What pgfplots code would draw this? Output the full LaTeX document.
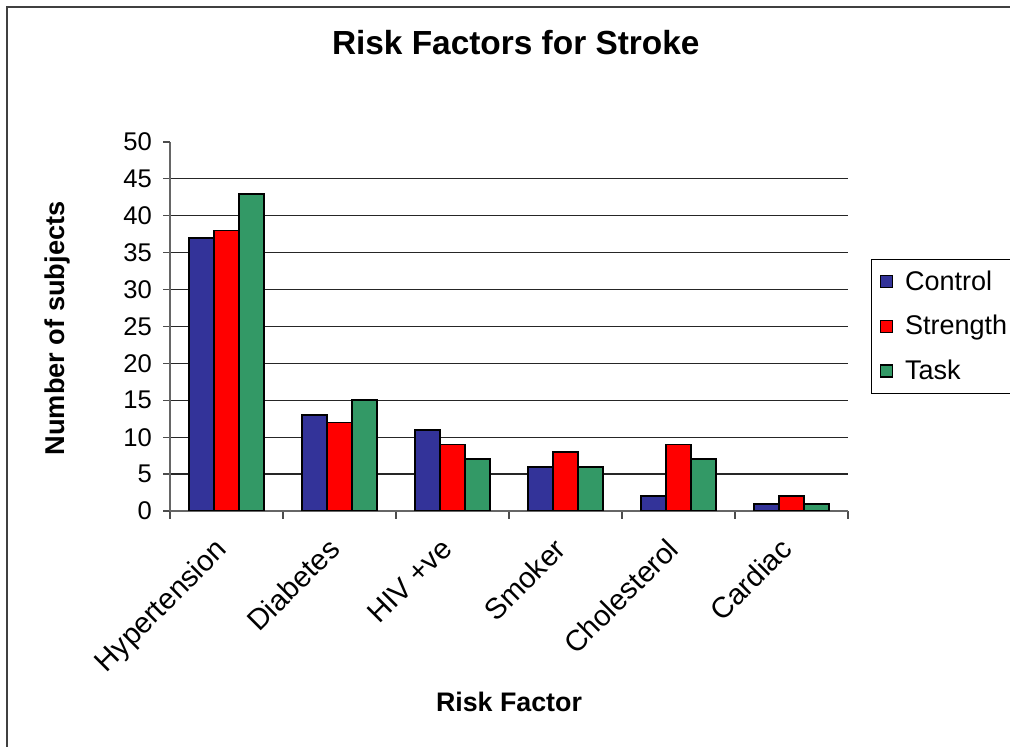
\documentclass[border=0pt]{standalone}
\usepackage{pgfplots}
\pgfplotsset{compat=1.18}
\usepackage{fontspec}
\setmainfont{Liberation Sans}
\definecolor{ctrl}{HTML}{333399}
\definecolor{strg}{HTML}{FF0000}
\definecolor{task}{HTML}{339966}
\begin{document}
\begin{tikzpicture}
\useasboundingbox (0,0) rectangle (505pt,373.5pt);
\draw[line width=1pt, black!75] (3.5pt,-5pt) -- (3.5pt,370pt) -- (515pt,370pt);
\begin{axis}[
  at={(85pt,118pt)}, anchor=south west,
  width=339pt, height=184.5pt, scale only axis,
  xmin=-0.5, xmax=5.5, ymin=0, ymax=50,
  ybar=0pt, bar width=12.55pt,
  axis x line*=bottom, axis y line*=left,
  axis line style={-, draw=black!60, line width=0.8pt},
  ytick={0,5,...,45}, extra y ticks={50}, extra y tick style={grid=none},
  ymajorgrids, grid style={black!85, line width=0.6pt},
  xtick={0,...,5},
  xticklabels={Hypertension,Diabetes,HIV +ve,Smoker,Cholesterol,Cardiac},
  major x tick style={draw=none},
  minor xtick={-0.5,0.5,...,5.5},
  tick style={draw=black!70, line width=0.6pt},
  tick align=outside, major tick length=3.5pt, minor tick length=4pt,
  /pgf/number format/assume math mode=true,
  tick label style={font=\fontsize{12.8}{15}\selectfont},
  xticklabel style={font=\fontsize{14.6}{17}\selectfont, rotate=45, anchor=north east, xshift=-7.6pt, yshift=1.6pt},
  yticklabel style={xshift=-2pt},
  title={Risk Factors for Stroke},
  title style={font=\bfseries\fontsize{16.7}{20}\selectfont, at={(axis description cs:0.51,1.236)}, anchor=center},
  xlabel={Risk Factor},
  xlabel style={font=\bfseries\fontsize{13.4}{16}\selectfont, at={(axis description cs:0.5,-0.518)}, anchor=center},
  ylabel={Number of subjects},
  ylabel style={font=\bfseries\fontsize{13.6}{16}\selectfont, at={(axis description cs:-0.166,0.495)}, anchor=center},
  legend style={at={(axis description cs:1.034,0.683)}, anchor=north west,
    draw=black, line width=0.6pt, font=\fontsize{13.5}{16}\selectfont,
    legend cell align=left, row sep=7pt, inner xsep=4pt, inner ysep=3.5pt},
  legend image code/.code={\draw[#1, line width=0.6pt] (0pt,-3pt) rectangle (6pt,3pt); \path (10pt,0pt);},
]
\addplot[fill=ctrl, draw=black, line width=0.9pt] coordinates {(0,37) (1,13) (2,11) (3,6) (4,2) (5,1)};
\addplot[fill=strg, draw=black, line width=0.9pt] coordinates {(0,38) (1,12) (2,9) (3,8) (4,9) (5,2)};
\addplot[fill=task, draw=black, line width=0.9pt] coordinates {(0,43) (1,15) (2,7) (3,6) (4,7) (5,1)};
\legend{Control,Strength,Task}
\end{axis}
\end{tikzpicture}
\end{document}
